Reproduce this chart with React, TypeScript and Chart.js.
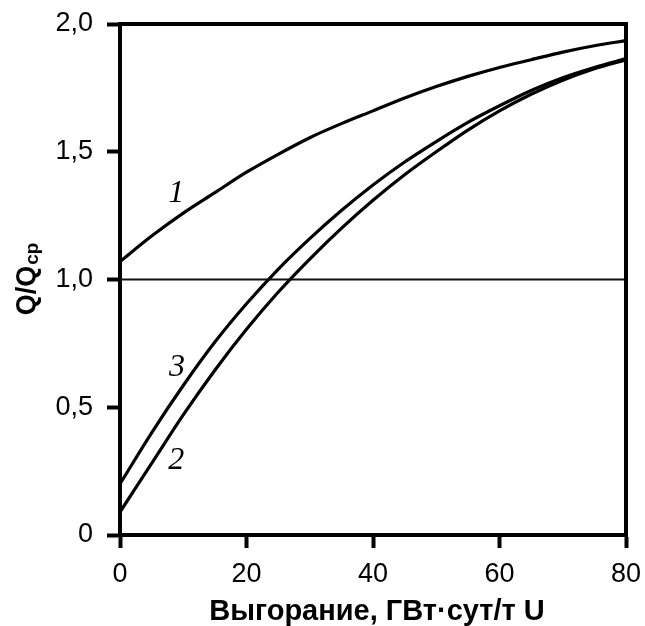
import React, { useEffect, useRef } from 'react';
import { Chart, registerables } from 'chart.js';

Chart.register(...registerables);

const burnup = [0, 5, 10, 15, 20, 25, 30, 35, 40, 45, 50, 55, 60, 65, 70, 75, 80];
const curve1 = [1.07, 1.17, 1.26, 1.34, 1.42, 1.49, 1.555, 1.61, 1.66, 1.71, 1.755, 1.795, 1.83, 1.86, 1.89, 1.915, 1.935];
const curve2 = [0.09, 0.28, 0.47, 0.645, 0.805, 0.95, 1.08, 1.2, 1.31, 1.41, 1.5, 1.585, 1.66, 1.725, 1.78, 1.825, 1.86];
const curve3 = [0.2, 0.4, 0.585, 0.755, 0.905, 1.04, 1.16, 1.27, 1.37, 1.46, 1.54, 1.615, 1.68, 1.74, 1.79, 1.83, 1.865];
const refLineX = [0, 80];
const refLineY = [1, 1];
const yTickLabels = ['0', '0,5', '1,0', '1,5', '2,0'];
const curveLabelText = ['1', '3', '2'];
const curveLabelX = [8.9, 9.0, 8.9];
const curveLabelY = [1.336, 0.655, 0.29];
const xTitle = 'Выгорание, ГВт·сут/т U';
const yTitleMain = 'Q/Q';
const yTitleSub = 'ср';

const toPoints = (xs: number[], ys: number[]) => xs.map((x, i) => ({ x, y: ys[i] }));

const SANS = '"Liberation Sans", Arial, sans-serif';
const SERIF = '"Liberation Serif", "Times New Roman", serif';

const decorPlugin = {
  id: 'decor',
  afterDraw(chart: any) {
    const { ctx, chartArea: a, scales } = chart;
    ctx.save();
    // top and right frame
    ctx.strokeStyle = '#000';
    ctx.lineWidth = 4;
    ctx.beginPath();
    ctx.moveTo(a.left - 2, a.top);
    ctx.lineTo(a.right, a.top);
    ctx.lineTo(a.right, a.bottom + 2);
    ctx.stroke();

    // curve labels
    ctx.fillStyle = '#000';
    ctx.font = `italic 32px ${SERIF}`;
    ctx.textAlign = 'center';
    ctx.textBaseline = 'middle';
    curveLabelText.forEach((t, i) => {
      ctx.fillText(t, scales.x.getPixelForValue(curveLabelX[i]), scales.y.getPixelForValue(curveLabelY[i]));
    });

    // x title
    ctx.font = `bold 29px ${SANS}`;
    ctx.textAlign = 'center';
    ctx.textBaseline = 'alphabetic';
    ctx.fillText(xTitle, 377, 620);

    // y title with subscript
    ctx.translate(35, (a.top + a.bottom) / 2);
    ctx.rotate(-Math.PI / 2);
    ctx.textAlign = 'left';
    ctx.textBaseline = 'alphabetic';
    const mainFont = `bold 27px ${SANS}`;
    const subFont = `bold 19px ${SANS}`;
    ctx.font = mainFont;
    const w1 = ctx.measureText(yTitleMain).width;
    ctx.font = subFont;
    const w2 = ctx.measureText(yTitleSub).width;
    const start = -(w1 + w2) / 2;
    ctx.font = mainFont;
    ctx.fillText(yTitleMain, start, 0);
    ctx.font = subFont;
    ctx.fillText(yTitleSub, start + w1 + 1, 3);
    ctx.restore();
  },
};

const zeroPad = (s: any) => {
  s.paddingTop = 0;
  s.paddingBottom = 0;
  s.paddingLeft = 0;
  s.paddingRight = 0;
};

export default function App() {
  const ref = useRef<HTMLCanvasElement | null>(null);
  useEffect(() => {
    if (!ref.current) return;
    const lineDs = (data: number[], label: string) => ({
      label,
      data: toPoints(burnup, data),
      borderColor: '#000',
      borderWidth: 3.2,
      pointRadius: 0,
      fill: false,
      cubicInterpolationMode: 'monotone' as const,
    });
    const chart = new Chart(ref.current, {
      type: 'line',
      data: {
        datasets: [
          {
            label: 'ref',
            data: toPoints(refLineX, refLineY),
            borderColor: '#111',
            borderWidth: 2,
            pointRadius: 0,
            fill: false,
          },
          lineDs(curve1, '1'),
          lineDs(curve2, '2'),
          lineDs(curve3, '3'),
        ],
      },
      options: {
        animation: false,
        responsive: false,
        devicePixelRatio: 1,
        layout: { padding: { top: 24, right: 19, left: 0, bottom: 0 } },
        plugins: { legend: { display: false }, tooltip: { enabled: false } },
        scales: {
          x: {
            type: 'linear',
            min: 0,
            max: 80,
            ticks: {
              stepSize: 20,
              color: '#000',
              font: { family: SANS, size: 27 },
              padding: 10,
              maxRotation: 0,
            },
            grid: {
              drawOnChartArea: false,
              drawTicks: true,
              tickLength: 13,
              tickWidth: 4,
              tickColor: '#000',
            },
            border: { display: true, width: 4, color: '#000' },
            afterFit: (s: any) => {
              s.height = 91;
              zeroPad(s);
            },
          },
          y: {
            type: 'linear',
            min: 0,
            max: 2,
            ticks: {
              stepSize: 0.5,
              color: '#000',
              font: { family: SANS, size: 27 },
              padding: 14,
              callback: (_v: any, i: number) => yTickLabels[i],
            },
            grid: {
              drawOnChartArea: false,
              drawTicks: true,
              tickLength: 13,
              tickWidth: 4,
              tickColor: '#000',
            },
            border: { display: true, width: 4, color: '#000' },
            afterFit: (s: any) => {
              s.width = 120;
              zeroPad(s);
            },
          },
        },
      },
      plugins: [decorPlugin],
    });
    return () => chart.destroy();
  }, []);
  return (
    <div style={{ position: 'fixed', left: 0, top: 0, width: 645, height: 626, background: '#fff' }}>
      <canvas ref={ref} width={645} height={626} style={{ width: 645, height: 626, display: 'block' }} />
    </div>
  );
}
